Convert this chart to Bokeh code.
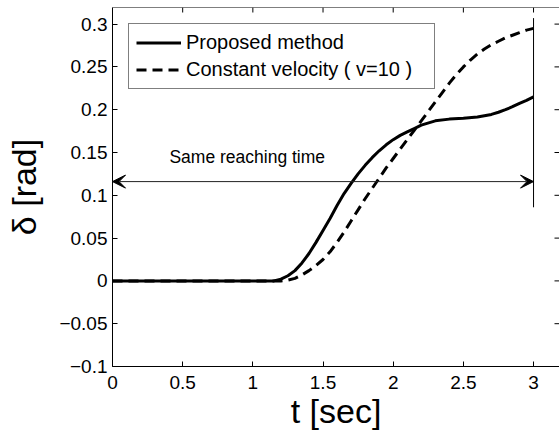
import math
from bokeh.plotting import figure
from bokeh.models import (Range1d, FixedTicker, CustomJSTickFormatter, Span,
                          Arrow, VeeHead, Legend, LegendItem, Label)
from bokeh.embed import file_html
from bokeh.resources import INLINE

# ---- data ----
t_prop = [0.0, 0.5, 1.0, 1.10, 1.15, 1.20, 1.25, 1.30, 1.35, 1.40, 1.45, 1.50, 1.55, 1.60,
          1.65, 1.70, 1.75, 1.80, 1.85, 1.90, 1.95, 2.00, 2.05, 2.10, 2.15, 2.20,
          2.30, 2.40, 2.50, 2.60, 2.65, 2.70, 2.75, 2.80, 2.85, 2.90, 2.95, 3.00]
d_prop = [0.0, 0.0, 0.0, 0.0, 0.0, 0.002, 0.006, 0.012, 0.021, 0.032, 0.045, 0.059, 0.073, 0.088,
          0.102, 0.114, 0.125, 0.135, 0.144, 0.152, 0.159, 0.165, 0.170, 0.174, 0.178, 0.182,
          0.187, 0.189, 0.190, 0.1915, 0.193, 0.1945, 0.197, 0.200, 0.2035, 0.2075, 0.211, 0.215]

t_const = [0.0, 0.5, 1.0, 1.20, 1.25, 1.30, 1.35, 1.40, 1.45, 1.50, 1.55, 1.60, 1.65, 1.70,
           1.75, 1.80, 1.85, 1.90, 1.95, 2.00, 2.05, 2.10, 2.15, 2.20, 2.25, 2.30,
           2.35, 2.40, 2.45, 2.50, 2.55, 2.60, 2.65, 2.70, 2.75, 2.80, 2.85, 2.90, 2.95, 3.00]
d_const = [0.0, 0.0, 0.0, 0.0, 0.001, 0.003, 0.007, 0.012, 0.018, 0.025, 0.034, 0.045, 0.057, 0.070,
           0.083, 0.096, 0.108, 0.120, 0.132, 0.143, 0.154, 0.165, 0.176, 0.187, 0.198, 0.209,
           0.220, 0.231, 0.241, 0.250, 0.258, 0.265, 0.271, 0.276, 0.280, 0.284, 0.287, 0.290,
           0.293, 0.295]

x_ticks = [0, 0.5, 1, 1.5, 2, 2.5, 3]
y_ticks = [-0.1, -0.05, 0, 0.05, 0.1, 0.15, 0.2, 0.25, 0.3]

legend_labels = ["Proposed method", "Constant velocity ( v=10 )"]
x_label = "t [sec]"
y_label = "δ [rad]"

arrow_level = 0.116
end_marker_low = 0.086
end_marker_high = 0.307
note_text = "Same reaching time"
note_t = 0.96
note_d = 0.145

FONT = "Liberation Sans"
X_END = 3.185
Y_END = 0.3194

p = figure(width=559, height=434,
           x_range=Range1d(0, X_END), y_range=Range1d(-0.1, Y_END),
           output_backend="svg", toolbar_location=None,
           min_border_left=112, min_border_right=0, min_border_top=7, min_border_bottom=68,
           background_fill_color="white", border_fill_color="white")

p.xgrid.grid_line_color = None
p.ygrid.grid_line_color = None
p.outline_line_color = None

fmt_code = "var s = parseFloat(tick.toFixed(2)).toString(); return s.replace('-', '\u2212');"

for ax, ticks in ((p.xaxis[0], x_ticks), (p.yaxis[0], y_ticks)):
    ax.ticker = FixedTicker(ticks=ticks)
    ax.formatter = CustomJSTickFormatter(code=fmt_code)
    ax.major_tick_in = 5
    ax.major_tick_out = 0
    ax.minor_tick_line_color = None
    ax.axis_line_color = "black"
    ax.axis_line_width = 1
    ax.major_tick_line_color = "black"
    ax.major_tick_line_width = 1
    ax.major_label_text_font = FONT
    ax.major_label_text_color = "black"
    ax.major_label_text_font_size = "19px"
    ax.axis_label_text_font = FONT
    ax.axis_label_text_font_size = "34px"
    ax.axis_label_text_font_style = "normal"
    ax.axis_label_text_color = "black"

p.xaxis[0].major_label_standoff = 9
p.xaxis[0].axis_label = x_label
p.xaxis[0].axis_label_standoff = 0

p.yaxis[0].major_label_standoff = 5
p.yaxis[0].axis_label = y_label
p.yaxis[0].axis_label_standoff = 13

# top edge of the box (the right edge lies just outside the picture)
p.add_layout(Span(location=Y_END, dimension="width", line_color="black", line_width=1))

# inward ticks on the top and right edges of the box
p.ray(x=x_ticks, y=[Y_END] * len(x_ticks), length=5, length_units="screen",
      angle=-math.pi / 2, line_color="black", line_width=1)
p.ray(x=[X_END] * len(y_ticks), y=y_ticks, length=5, length_units="screen",
      angle=math.pi, line_color="black", line_width=1)

r1 = p.line(t_prop, d_prop, line_color="black", line_width=3)
r2 = p.line(t_const, d_const, line_color="black", line_width=3, line_dash="10 6")

# end-time marker and "same reaching time" arrow
p.segment(x0=[t_prop[-1]], y0=[end_marker_low], x1=[t_prop[-1]], y1=[end_marker_high],
          line_color="black", line_width=1)
p.add_layout(Arrow(start=VeeHead(size=13, fill_color="black", line_color="black", line_width=1),
                   end=VeeHead(size=13, fill_color="black", line_color="black", line_width=1),
                   x_start=t_prop[0], y_start=arrow_level, x_end=t_prop[-1], y_end=arrow_level,
                   line_color="#222222", line_width=1))
p.add_layout(Label(x=note_t, y=note_d, text=note_text, text_align="center",
                   text_baseline="middle", text_font=FONT, text_font_size="17.5px",
                   text_color="black"))

legend = Legend(items=[LegendItem(label=legend_labels[0], renderers=[r1]),
                       LegendItem(label=legend_labels[1], renderers=[r2])],
                location="top_left", margin=16, padding=7, spacing=4,
                glyph_width=45, glyph_height=21, label_height=21, label_standoff=5,
                label_width=241,
                label_text_font=FONT, label_text_font_size="20px", label_text_color="black",
                border_line_color="black", border_line_width=1,
                background_fill_color="white", background_fill_alpha=1.0)
p.add_layout(legend, "center")

open("out.html", "w").write(file_html(p, INLINE))
